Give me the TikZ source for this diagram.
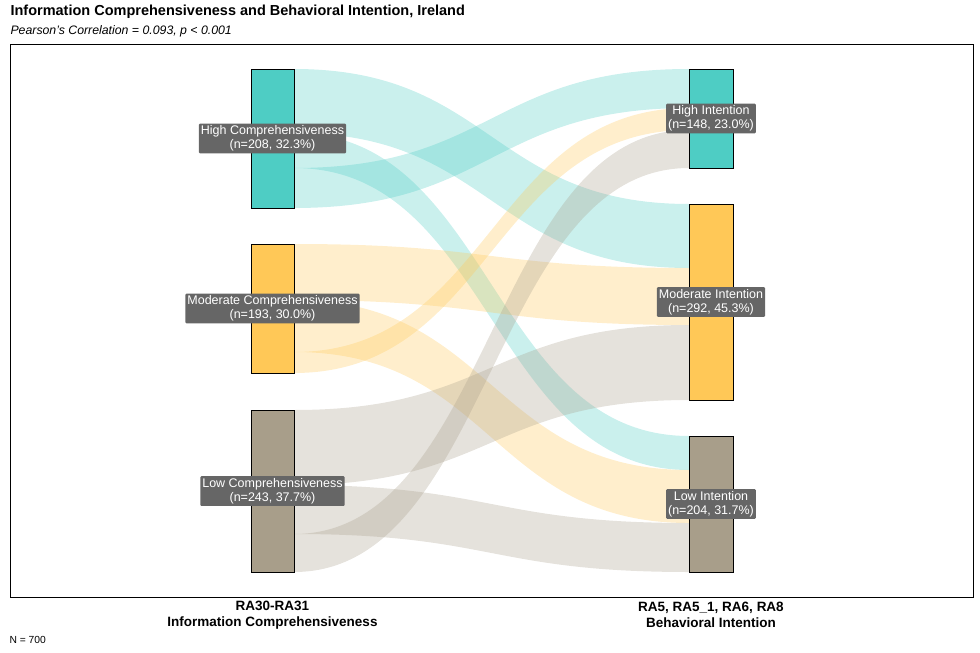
\documentclass[tikz,border=0pt]{standalone}
\usepackage{fontspec}
\setmainfont{Liberation Sans}
\definecolor{cH}{HTML}{4ECDC4}
\definecolor{cM}{HTML}{FFC857}
\definecolor{cL}{HTML}{A89E8A}
\definecolor{lab}{HTML}{666666}
\newcommand{\myflow}[5]{\fill[#1,fill opacity=0.3] (294,#2) .. controls (491.5,#2) and (491.5,#4) .. (689,#4) -- (689,#5) .. controls (491.5,#5) and (491.5,#3) .. (294,#3) -- cycle;}
\tikzset{bar/.style={draw=black,line width=0.8pt},
lbl/.style={fill=lab,text=white,font=\fontsize{12.5}{14}\selectfont,align=center,inner sep=2pt,rounded corners=1pt}}
\begin{document}
\begin{tikzpicture}[x=1pt,y=-1pt]
\useasboundingbox (0,0) rectangle (980,653);
\node[anchor=west,font=\bfseries\fontsize{14.5}{16}\selectfont] (title) at (7,12) {Information Comprehensiveness and Behavioral Intention, Ireland};
\node[anchor=west,font=\itshape\fontsize{12.3}{14}\selectfont] (sub) at (7,31) {Pearson's Correlation = 0.093, p < 0.001};
\draw[line width=0.5pt] (10,44) rectangle (973,597);
% flows
\myflow{cH}{69}{133}{204}{268}
\myflow{cH}{133}{168}{436}{470}
\myflow{cH}{168}{208}{69}{108}
\myflow{cM}{244}{300}{268}{325}
\myflow{cM}{300}{352}{470}{523}
\myflow{cM}{352}{373}{108}{130}
\myflow{cL}{410}{485}{325}{400}
\myflow{cL}{485}{534}{523}{572}
\myflow{cL}{534}{572}{130}{168}
% bars
\draw[bar,fill=cH] (251,69) rectangle (294,208) coordinate (lh);
\draw[bar,fill=cM] (251,244) rectangle (294,373) coordinate (lm);
\draw[bar,fill=cL] (251,410) rectangle (294,572) coordinate (ll);
\draw[bar,fill=cH] (689,69) rectangle (733,168) coordinate (rh);
\draw[bar,fill=cM] (689,204) rectangle (733,400) coordinate (rm);
\draw[bar,fill=cL] (689,436) rectangle (733,572) coordinate (rl);
% labels
\node[lbl] (tlh) at (272.5,138.5) {High Comprehensiveness\\(n=208, 32.3\%)};
\node[lbl] (tlm) at (272.5,308.5) {Moderate Comprehensiveness\\(n=193, 30.0\%)};
\node[lbl] (tll) at (272.5,491) {Low Comprehensiveness\\(n=243, 37.7\%)};
\node[lbl] (trh) at (711,118.5) {High Intention\\(n=148, 23.0\%)};
\node[lbl] (trm) at (711,302) {Moderate Intention\\(n=292, 45.3\%)};
\node[lbl] (trl) at (711,504) {Low Intention\\(n=204, 31.7\%)};
\node[font=\bfseries\fontsize{13.5}{15.5}\selectfont,align=center] (ax1) at (272.5,615) {RA30-RA31\\Information Comprehensiveness};
\node[font=\bfseries\fontsize{13.5}{15.5}\selectfont,align=center] (ax2) at (711,615) {RA5, RA5\_1, RA6, RA8\\Behavioral Intention};
\node[anchor=west,font=\fontsize{10.3}{12}\selectfont] (n) at (6,640) {N = 700};
\end{tikzpicture}
\end{document}
